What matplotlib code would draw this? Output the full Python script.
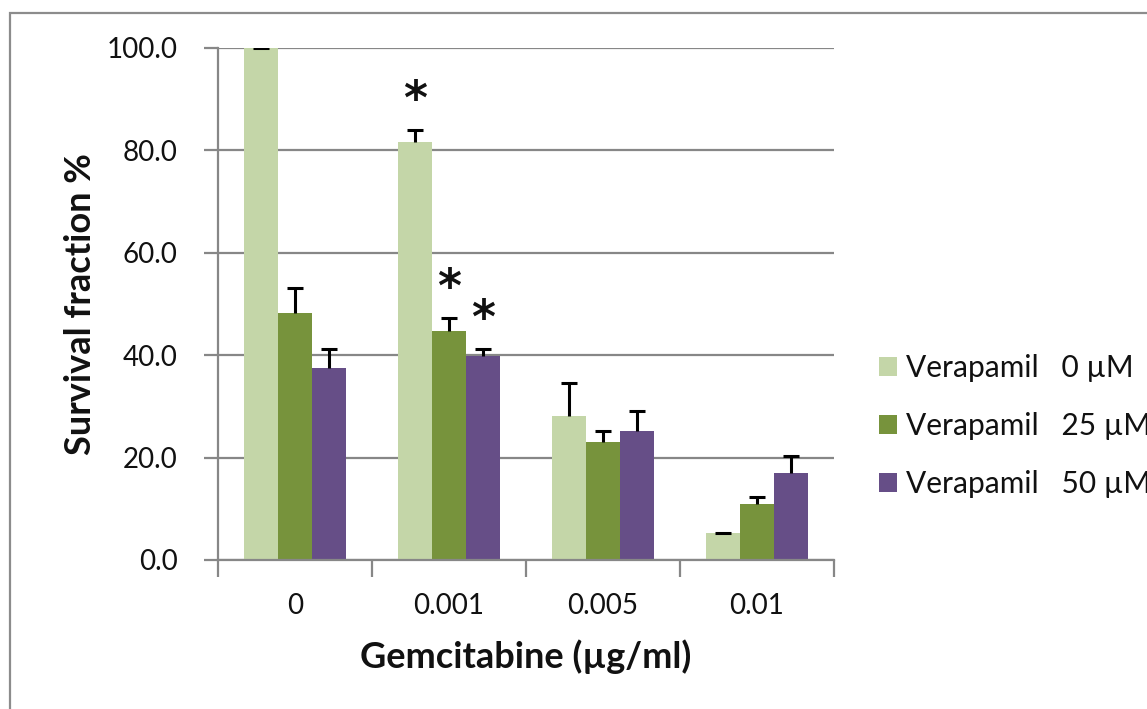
"""Survival fraction vs gemcitabine dose, with and without verapamil."""

import matplotlib

matplotlib.use("Agg")
import matplotlib.pyplot as plt
import numpy as np
from matplotlib.patches import Patch, Rectangle

CATEGORIES = ["0", "0.001", "0.005", "0.01"]
SERIES_LABELS = ["Verapamil   0 µM", "Verapamil   25 µM", "Verapamil   50 µM"]

VERA_0 = [100.0, 81.6, 28.1, 5.2]
VERA_0_ERR = [0.0, 2.4, 6.5, 0.1]
VERA_25 = [48.3, 44.7, 23.0, 10.9]
VERA_25_ERR = [4.8, 2.6, 2.2, 1.5]
VERA_50 = [37.5, 39.8, 25.1, 17.0]
VERA_50_ERR = [3.7, 1.5, 4.0, 3.4]

# (category index, series index) pairs marked as significant
SIGNIFICANT = [(1, 0), (1, 1), (1, 2)]

Y_TICKS = [0, 20, 40, 60, 80, 100]

_C_LIGHT = "#c4d6a8"
_C_OLIVE = "#77933c"
_C_PURPLE = "#664e87"
_C_GRID = "#878787"
_C_TEXT = "#111111"

plt.rcParams["font.family"] = ["Lato", "DejaVu Sans"]

W, H = 1147, 709
fig = plt.figure(figsize=(W / 100, H / 100), dpi=100)
ax = fig.add_axes([218 / W, 1 - 560 / H, 616 / W, 512 / H])

values = [VERA_0, VERA_25, VERA_50]
errors = [VERA_0_ERR, VERA_25_ERR, VERA_50_ERR]
colors = [_C_LIGHT, _C_OLIVE, _C_PURPLE]
width = 0.22
x = np.arange(len(CATEGORIES))

tops = []
for i, (vals, errs, color, label) in enumerate(zip(values, errors, colors, SERIES_LABELS)):
    pos = x + (i - 1) * width
    ax.bar(pos, vals, width=width, color=color, label=label, zorder=2)
    _, caps, _ = ax.errorbar(pos, vals, yerr=[np.zeros(len(errs)), errs], fmt="none",
                             ecolor="black", elinewidth=2.2, capsize=6, capthick=2.2, zorder=3)
    # plus-only error bars: hide the cap sitting on the bar top
    caps[0].set_visible(False)
    tops.append((pos, np.array(vals) + np.array(errs)))

for cat, ser in SIGNIFICANT:
    pos, top = tops[ser]
    ax.annotate("*", xy=(pos[cat], top[cat]), xytext=(0, 4), textcoords="offset points",
                ha="center", va="bottom", fontsize=33, fontweight="bold",
                family="DejaVu Sans", color=_C_TEXT)

ax.set_ylim(0, 100)
ax.set_xlim(-0.5, len(CATEGORIES) - 0.5)
ax.set_yticks(Y_TICKS)
ax.set_yticklabels([f"{t:.1f}" for t in Y_TICKS])
ax.yaxis.grid(True, color=_C_GRID, lw=1.6, zorder=0)
ax.set_axisbelow(True)

ax.set_xticks(np.arange(len(CATEGORIES) + 1) - 0.5)
ax.set_xticklabels([])
ax.set_xticks(x, minor=True)
ax.set_xticklabels(CATEGORIES, minor=True)
ax.tick_params(axis="x", which="major", direction="out", length=12, width=1.6, color=_C_GRID)
ax.tick_params(axis="x", which="minor", length=0, pad=24, labelsize=20, labelcolor=_C_TEXT)
ax.tick_params(axis="y", direction="out", length=10, width=1.6, color=_C_GRID,
               pad=19, labelsize=20, labelcolor=_C_TEXT)

for side in ("top", "right"):
    ax.spines[side].set_visible(False)
for side in ("left", "bottom"):
    ax.spines[side].set_color(_C_GRID)
    ax.spines[side].set_linewidth(1.6)

ax.set_ylabel("Survival fraction %", fontsize=26, fontweight="bold", color=_C_TEXT, va="center")
ax.yaxis.set_label_coords(-0.224, 0.5)
ax.set_xlabel("Gemcitabine (µg/ml)", fontsize=26, fontweight="bold", color=_C_TEXT, va="center")
ax.xaxis.set_label_coords(0.5, -0.189)

# legend runs past the right edge, as in the source figure
handles = [Patch(facecolor=c, edgecolor="none") for c in colors]
ax.legend(handles, SERIES_LABELS, loc="center left", bbox_to_anchor=(879 / W, 1 - 426 / H),
          bbox_transform=fig.transFigure, frameon=False, fontsize=21.5,
          handlelength=0.6, handleheight=0.6, handletextpad=0.3,
          labelspacing=1.0, borderpad=0, borderaxespad=0, labelcolor=_C_TEXT)

fig.add_artist(Rectangle((10 / W, -0.2), 1.3, 1.2 - 13 / H, transform=fig.transFigure,
                         fill=False, edgecolor="#8c8c8c", lw=1.6))

fig.savefig("out.png", dpi=100)
